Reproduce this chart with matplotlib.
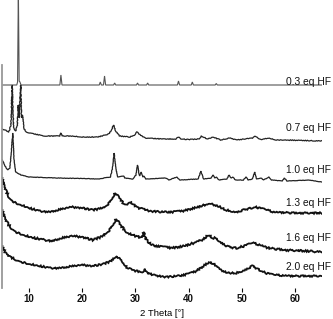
import matplotlib
matplotlib.use("Agg")
import matplotlib.pyplot as plt
import numpy as np

plt.rcParams['font.family'] = ['Liberation Sans', 'DejaVu Sans']

labels = ["0.3 eq HF", "0.7 eq HF", "1.0 eq HF", "1.3 eq HF", "1.6 eq HF", "2.0 eq HF"]

# 2-theta / intensity (arbitrary units)
tt_03 = [5.0, 7.7, 7.85, 8.0, 8.15, 8.3, 8.5, 15.8, 16.0, 16.2, 23.2, 23.4, 23.6, 24.0, 24.2, 24.4,
         25.9, 26.1, 26.3, 30.2, 30.4, 30.6, 32.1, 32.3, 32.5, 37.9, 38.1, 38.3, 40.5, 40.7, 40.9,
         45.0, 45.2, 45.4, 65.0]
i_03 = [0, 0, 3, 95, 4, 3, 0, 0, 10, 0, 0, 3, 0, 0, 9, 0,
        0, 2, 0, 0, 2, 0, 0, 2, 0, 0, 4, 0, 0, 3, 0,
        0, 1.5, 0, 0]

tt_07 = [5.0, 5.5, 6.2, 6.6, 6.85, 7.1, 7.5, 7.8, 7.99, 8.15, 8.43, 8.6, 8.8, 9.0, 9.5, 11, 13,
         15.8, 16.0, 16.2, 18, 20, 23, 25.0, 25.5, 25.9, 26.3, 27, 29, 29.8, 30.3, 30.7, 31.2, 32,
         35, 37.6, 38.1, 38.6, 40, 42.0, 42.4, 43.5, 44.6, 46, 47.7, 49, 50.5, 52.0, 52.4, 53.5,
         55.0, 56.5, 58, 65]
i_07 = [12, 11, 9, 16, 56, 13, 10, 16, 36, 23, 56, 23, 26, 13, 9, 7, 5,
        5, 8, 5, 5, 4, 4, 7, 11, 16, 10, 5, 4, 6, 9, 7, 5, 3,
        2, 2, 4, 2, 1.5, 2, 5, 2, 4, 1, 3, 1, 2, 3, 5, 1.5,
        3, 1, 1, 0]

tt_10 = [5.0, 5.5, 6.0, 6.4, 6.7, 6.95, 7.2, 7.5, 8.5, 10, 15, 20, 23, 25.3, 25.7, 26.0, 26.3,
         26.7, 27.8, 28.0, 29.5, 30.1, 30.4, 30.75, 31.1, 31.4, 31.6, 32.0, 35.7, 36.3, 37.8, 38.3,
         41.8, 42.3, 42.8, 44.2, 44.6, 44.9, 45.2, 45.7, 47.2, 47.6, 48.0, 48.3, 48.8, 50.3, 50.8,
         51.2, 52.0, 52.4, 52.8, 53.6, 54.1, 55.1, 55.6, 57.6, 58.0, 58.5, 62.7, 65]
i_10 = [22, 16, 12, 14, 32, 49, 22, 10, 7, 5, 4, 3.5, 3, 5, 14, 29, 14,
        5, 6, 4, 3, 7, 17, 6, 10, 5, 6, 3, 4, 2, 5, 2,
        3, 11, 3, 4, 7, 4, 5, 2, 3, 7, 4, 5, 2, 2, 5,
        2, 3, 10, 3, 4, 2, 5, 2, 1, 4, 1, 2, 0]

tt_13 = [5.0, 5.4, 5.8, 6.4, 7.5, 9, 10, 12, 14, 16, 18, 20, 22, 24, 25.3, 26.2, 27.0, 27.8,
         28.5, 29.0, 29.5, 30.5, 31.5, 32.5, 35, 37, 39, 41, 43, 44.2, 45.5, 47, 49, 51, 52.5,
         54, 56, 60, 65]
i_13 = [35, 27, 21, 14, 10, 7, 5, 2, 1, 4, 6, 5, 3, 5, 11, 20, 15, 9,
        9, 11, 9, 5, 4, 2, 1, 1, 2, 5, 8, 9, 7, 3, 1, 4, 6,
        4, 1, 0, 0]

tt_16 = [5.0, 5.5, 6.2, 7, 8, 9.5, 11, 13, 14.5, 16, 18, 20, 22, 24, 25.5, 26.4, 27.3, 28.5,
         30, 31.3, 31.6, 31.9, 33, 35, 37, 39, 41, 42.5, 43.8, 44.5, 45.2, 46, 47.5, 49, 50.5,
         52.0, 53.5, 55, 58, 62, 65]
i_16 = [42, 34, 27, 22, 19, 16, 14, 12, 11, 14, 16, 15, 12, 16, 24, 33, 26, 19,
        16, 14, 20, 13, 7, 5, 4, 6, 9, 12, 17, 14, 14, 10, 5, 4, 6,
        9, 7, 4, 2, 1, 0]

tt_20 = [5.0, 5.5, 6.5, 8, 10, 12, 14, 16, 18, 20, 22, 24, 25.5, 26.5, 27.5, 28.5, 30, 31.5,
         31.8, 32.2, 34, 36, 38, 40, 41.5, 43, 44.0, 45, 46, 47.5, 49, 50.5, 52.0, 53, 54.5,
         56, 60, 65]
i_20 = [30, 24, 19, 15, 12, 10, 8, 8, 10, 11, 10, 12, 15, 20, 14, 8, 5, 4,
        7, 3, 0, -1, 0, 2, 5, 11, 14, 11, 6, 3, 3, 6, 10, 7, 3,
        1, 0, 0]

series = [(tt_03, i_03), (tt_07, i_07), (tt_10, i_10), (tt_13, i_13), (tt_16, i_16), (tt_20, i_20)]
offsets = [203, 147, 106, 75, 36, 12]
colors = ['#555555', '#222222', '#222222', '#111111', '#111111', '#111111']
widths = [0.8, 0.9, 0.9, 1.3, 1.3, 1.3]
sketch = [None, (0.35, 1.5, 3), (0.2, 1.5, 3), (0.8, 1.0, 4), (0.9, 1.0, 4), (0.8, 1.0, 4)]
label_y = [82, 128, 170, 203, 238, 267]

W, H = 333, 319
fig = plt.figure(figsize=(W / 100, H / 100), dpi=100)
ax = fig.add_axes([2.4 / W, 31 / H, (321.6 - 2.4) / W, 288 / H])

for (tt, ii), off, c, lw, sk in zip(series, offsets, colors, widths, sketch):
    line, = ax.plot(tt, np.array(ii) + off, color=c, lw=lw, solid_joinstyle='miter')
    if sk is not None:
        line.set_sketch_params(*sk)

ax.set_xlim(5, 65)
ax.set_ylim(0, 288)
for s in ['top', 'right', 'bottom']:
    ax.spines[s].set_visible(False)
ax.spines['left'].set_color('#999999')
ax.spines['left'].set_linewidth(1.3)
ax.spines['left'].set_bounds(0, 223)
ax.set_yticks([])
ax.set_xticks([10, 20, 30, 40, 50, 60])
ax.tick_params(axis='x', length=3, width=0.8, pad=1.5, labelsize=7, colors='#111111')
for t in ax.get_xticklabels():
    t.set_fontweight('bold')
ax.set_xlabel("2 Theta [°]", fontsize=6.8, labelpad=3.5)

for lab, y in zip(labels, label_y):
    fig.text(331 / W, 1 - y / H, lab, ha='right', va='center', fontsize=7.4, color='#111111')

fig.savefig("out.png", dpi=100)
